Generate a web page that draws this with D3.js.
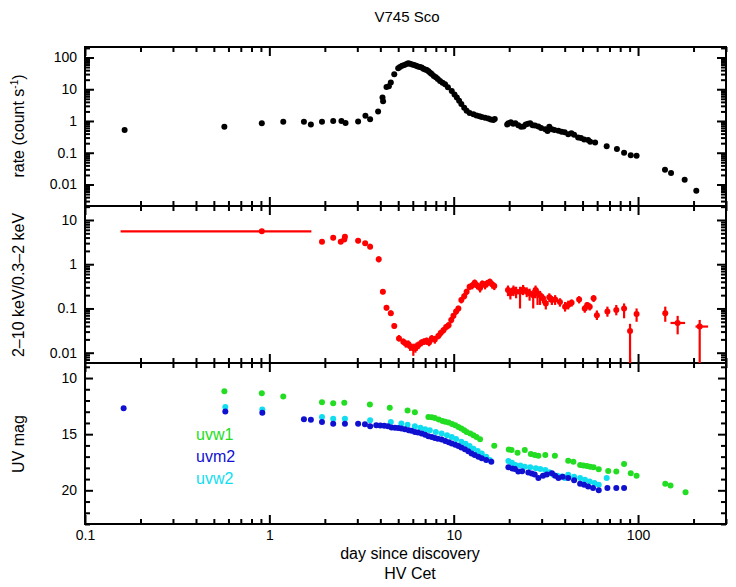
<!DOCTYPE html>
<html><head><meta charset="utf-8">
<script src="https://cdn.jsdelivr.net/npm/d3@7"></script>
<style>
body{margin:0;background:#fff;}
text{font-family:"Liberation Sans",Arial,Helvetica,sans-serif;}
</style></head>
<body><svg id="c" width="736" height="587"></svg>
<script>
// ---------- DATA ----------
const title = "V745 Sco";
const xTickLabels = ["0.1","1","10","100"];
const xMajor = [0.1,1,10,100];

// top panel: count rate
const rateDay = [0.164,0.57,0.91,1.19,1.54,1.68,1.93,2.22,2.46,2.59,3.03,3.32,3.52,3.89,4.11,4.14,4.32,4.45,4.56,4.76,5.0,5.11,5.25,5.4,5.55,5.67,5.8,5.95,6.1,6.25,6.4,6.55,6.7,6.85,7.0,7.15,7.3,7.45,7.6,7.8,8.0,8.2,8.43,8.7,8.98,9.3,9.76,10.1,10.4,10.7,11.0,11.4,11.75,12.2,12.8,13.3,13.8,14.2,14.8,15.4,15.9,16.4,16.7,19.5,19.8,20.4,21.0,21.6,22.4,23.2,23.9,24.6,25.3,26.0,26.8,27.6,28.8,29.8,31.4,32.3,33.0,34.1,35.2,37.0,38.5,40.0,41.8,43.5,45.0,47.3,49.0,51.0,53.6,55.0,58.5,67.6,76.8,84,91.3,98.2,140,151,179,207];
const rateVal = [0.52,0.66,0.85,0.94,0.94,0.77,0.94,1.0,1.0,0.86,0.97,1.45,1.13,1.98,5.5,4.2,11.8,12.5,16.3,29.8,46,50,55,58,62,66,64,60,58,55,52,50,48,44,42,40,37,33,30,26,24,21,18.3,16,14.4,11.5,8.8,6.8,5.5,4.3,3.4,2.6,2.1,1.8,1.63,1.5,1.4,1.34,1.26,1.19,1.12,1.08,1.15,0.78,0.85,0.92,0.82,0.85,0.74,0.66,0.67,0.78,0.82,0.85,0.74,0.72,0.67,0.60,0.55,0.48,0.66,0.55,0.52,0.49,0.46,0.44,0.38,0.41,0.37,0.30,0.29,0.26,0.25,0.22,0.21,0.16,0.13,0.10,0.083,0.08,0.029,0.023,0.014,0.0063];

// middle panel: hardness ratio
const hrDay = [0.91,1.93,2.22,2.44,2.55,2.57,3.03,3.31,3.52,3.92,4.13,4.32,4.56,4.76,5.05,5.33,5.5,5.67,5.8,6.04,6.2,6.3,6.45,6.7,6.9,7.13,7.35,7.6,7.9,8.25,8.5,8.8,9.1,9.38,9.7,9.97,10.3,10.6,11.0,11.4,11.75,12.2,12.6,13.0,13.4,13.9,14.3,14.8,15.2,15.7,16.2,16.6,19.7,20.3,21.1,21.8,22.9,23.8,24.9,25.8,27.0,27.8,28.5,29.4,30.5,31.6,33.0,34.1,35.5,37.7,40.2,41.8,43.6,47.9,51.4,53.0,54.7,57.4,59.8,68.2,76.2,84,90.5,98.2,140.5,164,216];
const hrVal = [5.55,3.23,3.97,3.23,3.6,4.2,3.4,2.97,2.49,1.29,0.24,0.104,0.078,0.040,0.021,0.0177,0.016,0.0158,0.014,0.0126,0.013,0.0138,0.015,0.0169,0.018,0.0187,0.017,0.021,0.02,0.0238,0.028,0.0323,0.038,0.042,0.055,0.068,0.085,0.1,0.155,0.19,0.24,0.31,0.33,0.38,0.33,0.29,0.36,0.34,0.37,0.40,0.35,0.32,0.26,0.22,0.26,0.24,0.24,0.27,0.24,0.22,0.2,0.26,0.22,0.2,0.17,0.13,0.18,0.155,0.16,0.14,0.11,0.12,0.135,0.16,0.1,0.12,0.11,0.17,0.07,0.085,0.092,0.1,0.031,0.075,0.078,0.047,0.039];
const hrLo = [5.3,2.9,3.5,2.9,3.2,3.7,3.0,2.6,2.2,1.1,0.21,0.09,0.068,0.035,0.018,0.015,0.013,0.013,0.011,0.0085,0.010,0.011,0.012,0.014,0.015,0.015,0.014,0.017,0.016,0.020,0.023,0.027,0.032,0.035,0.046,0.058,0.072,0.085,0.13,0.16,0.2,0.26,0.27,0.31,0.27,0.23,0.29,0.27,0.3,0.33,0.28,0.26,0.19,0.16,0.19,0.17,0.10,0.2,0.18,0.15,0.1,0.17,0.12,0.12,0.13,0.095,0.14,0.12,0.12,0.11,0.085,0.095,0.11,0.13,0.08,0.1,0.09,0.14,0.055,0.065,0.07,0.06,0.001,0.05,0.05,0.026,0.001];
const hrHi = [5.8,3.6,4.5,3.6,4.0,4.7,3.8,3.3,2.9,1.5,0.27,0.12,0.09,0.046,0.025,0.021,0.019,0.019,0.017,0.016,0.016,0.017,0.018,0.02,0.021,0.022,0.02,0.025,0.024,0.028,0.033,0.038,0.044,0.049,0.064,0.079,0.098,0.115,0.18,0.22,0.28,0.36,0.39,0.45,0.39,0.35,0.43,0.41,0.44,0.47,0.42,0.38,0.33,0.28,0.33,0.31,0.31,0.34,0.3,0.28,0.26,0.33,0.28,0.25,0.21,0.16,0.22,0.19,0.2,0.17,0.14,0.15,0.16,0.19,0.12,0.14,0.13,0.2,0.09,0.11,0.12,0.13,0.045,0.1,0.11,0.068,0.055];
const hrXerr = [{i:0,lo:0.156,hi:1.69},{i:85,lo:150,hi:180},{i:86,lo:205,hi:240}];

// bottom panel: UVOT magnitudes
const uvw1Day = [0.57,0.91,1.19,1.93,2.22,2.55,3.51,4.5,5.62,6.16,7.29,7.6,7.9,8.3,8.7,9.0,9.38,9.8,10.2,10.6,11.0,11.4,11.75,12.3,12.8,13.3,13.9,16.6,19.9,20.6,22.2,24.3,26.2,27.5,28.8,31.4,35.4,41.8,44.6,48.5,50.5,52.8,55,57.4,61.2,68.9,76.2,84,91.3,98.2,140.5,150,181];
const uvw1Mag = [11.18,11.36,11.65,12.15,12.24,12.21,12.36,12.65,12.89,13.04,13.48,13.5,13.56,13.7,13.83,13.9,13.97,14.1,14.21,14.35,14.5,14.65,14.8,14.95,15.09,15.25,15.45,16.04,16.36,16.4,16.65,16.42,16.77,16.85,16.92,16.86,16.92,17.36,17.45,17.74,17.78,17.83,17.9,17.94,18.12,18.27,18.33,17.65,18.47,18.71,19.42,19.57,20.18];
const uvm2Day = [0.162,0.577,0.916,1.54,1.68,1.93,2.22,2.57,3.03,3.3,3.52,3.8,4.0,4.2,4.4,4.6,4.8,5.0,5.2,5.43,5.7,5.9,6.16,6.4,6.7,7.0,7.29,7.6,7.9,8.2,8.6,9.0,9.4,9.76,10.2,10.6,11.0,11.5,12.0,12.5,13.0,13.6,14.2,15.0,16.0,19.8,20.8,21.5,22.4,23.5,25.4,26.5,27.5,28.8,30.5,32.0,34.1,35.5,37.0,39.0,41.8,45,48.5,51,53.6,57,61.2,68.2,76.2,84];
const uvm2Mag = [12.68,12.97,13.09,13.68,13.71,13.92,14.06,14.06,14.06,14.12,14.3,14.2,14.22,14.25,14.3,14.4,14.42,14.45,14.5,14.56,14.65,14.7,14.8,14.85,14.95,15.05,15.18,15.25,15.33,15.4,15.47,15.6,15.72,15.83,15.95,16.05,16.18,16.35,16.52,16.71,16.85,17.0,17.15,17.3,17.45,17.94,18.05,18.1,18.33,18.3,18.42,18.5,18.6,18.91,18.7,18.6,18.47,18.7,18.91,18.8,18.91,19.1,19.42,19.5,19.66,19.8,20.0,19.8,19.8,19.8];
const uvw2Day = [0.577,0.916,1.93,2.22,2.57,3.52,4.56,5.2,5.62,6.16,6.6,7.0,7.42,8.0,8.6,9.2,9.76,10.3,11.0,11.6,12.2,12.8,13.5,14.2,15.0,15.7,19.8,20.7,21.6,23.0,24.3,26.0,27.9,29.5,31.4,33.0,34.7,36.5,38.6,40.0,41.8,45,48.5,51.5,54.7,58,61.2,67.6];
const uvw2Mag = [12.59,12.8,13.48,13.62,13.62,13.77,13.92,14.05,14.15,14.3,14.42,14.55,14.65,14.8,14.95,15.1,15.24,15.42,15.68,15.85,16.06,16.3,16.5,16.71,17.0,17.3,17.39,17.55,17.74,17.8,17.89,17.95,18.03,18.1,18.18,18.4,18.62,18.7,18.77,18.9,18.62,18.8,18.91,19.05,19.21,19.35,19.5,18.91];
const legendNames = ["uvw1","uvm2","uvw2"];
const colors = {uvw1:"#22dd22", uvm2:"#1010d0", uvw2:"#10ddf0", x:"#ff0000", rate:"#000000"};

// ---------- DRAW ----------
const svg = d3.select("#c");
const L=85, R=726;
const panels = [{t:47,b:206},{t:206,b:363},{t:363,b:524}];
const x = d3.scaleLog().domain([0.1,300]).range([L,R]);
const yTop = d3.scaleLog().domain([0.0021,214]).range([panels[0].b,panels[0].t]);
const yMid = d3.scaleLog().domain([0.00585,20.7]).range([panels[1].b,panels[1].t]);
const yBot = d3.scaleLinear().domain([23,8.66]).range([panels[2].b,panels[2].t]);

const xMinor=[];
[0.1,1,10,100].forEach(d=>{for(let k=2;k<=9;k++){const v=d*k; if(v<=300) xMinor.push(v);}});
function logMinor(sc){const [a,b]=sc.domain();const out=[];for(let e=Math.floor(Math.log10(a));e<=Math.ceil(Math.log10(b));e++){for(let k=2;k<=9;k++){const v=k*Math.pow(10,e);if(v>=a&&v<=b)out.push(v);}}return out;}

function styleAxis(g){g.select(".domain").remove();g.selectAll("line").attr("stroke","#000").attr("stroke-width",2);g.selectAll("text").attr("font-size",14).attr("fill","#000");}

panels.forEach((p,i)=>{
  svg.append("g").attr("transform",`translate(0,${p.b})`).call(d3.axisBottom(x).tickValues(xMajor).tickSize(-9).tickFormat(i===2?((d,j)=>xTickLabels[j]):"").tickPadding(6)).call(styleAxis);
  svg.append("g").attr("transform",`translate(0,${p.b})`).call(d3.axisBottom(x).tickValues(xMinor).tickSize(-5).tickFormat("")).call(styleAxis);
  svg.append("g").attr("transform",`translate(0,${p.t})`).call(d3.axisTop(x).tickValues(xMajor).tickSize(-9).tickFormat("")).call(styleAxis);
  svg.append("g").attr("transform",`translate(0,${p.t})`).call(d3.axisTop(x).tickValues(xMinor).tickSize(-5).tickFormat("")).call(styleAxis);
});

function yAxes(sc, major, minor, labels, majLen, minLen){
  svg.append("g").attr("transform",`translate(${L},0)`).call(d3.axisLeft(sc).tickValues(major).tickSize(-majLen).tickPadding(8).tickFormat((d,j)=>labels[j])).call(styleAxis);
  svg.append("g").attr("transform",`translate(${L},0)`).call(d3.axisLeft(sc).tickValues(minor).tickSize(-minLen).tickFormat("")).call(styleAxis);
  svg.append("g").attr("transform",`translate(${R},0)`).call(d3.axisRight(sc).tickValues(major).tickSize(-majLen).tickFormat("")).call(styleAxis);
  svg.append("g").attr("transform",`translate(${R},0)`).call(d3.axisRight(sc).tickValues(minor).tickSize(-minLen).tickFormat("")).call(styleAxis);
}
yAxes(yTop,[0.01,0.1,1,10,100],logMinor(yTop),["0.01","0.1","1","10","100"],9,5);
yAxes(yMid,[0.01,0.1,1,10],logMinor(yMid),["0.01","0.1","1","10"],9,5);
yAxes(yBot,[10,15,20],d3.range(9,24).filter(v=>v%5!==0),["10","15","20"],8,5);

// frames
panels.forEach(p=>svg.append("rect").attr("x",L).attr("y",p.t).attr("width",R-L).attr("height",p.b-p.t).attr("fill","none").attr("stroke","#000").attr("stroke-width",2));

// top data
svg.append("g").selectAll("circle").data(rateDay.map((d,i)=>[d,rateVal[i]])).join("circle")
  .attr("cx",d=>x(d[0])).attr("cy",d=>yTop(d[1])).attr("r",3).attr("fill",colors.rate);

// middle data
const hr = hrDay.map((d,i)=>({d, v:hrVal[i], lo:hrLo[i], hi:hrHi[i]}));
const gm = svg.append("g");
gm.selectAll("line.ey").data(hr).join("line").attr("x1",d=>x(d.d)).attr("x2",d=>x(d.d))
  .attr("y1",d=>Math.min(yMid(d.lo),panels[1].b)).attr("y2",d=>yMid(d.hi)).attr("stroke",colors.x).attr("stroke-width",2.2);
gm.selectAll("line.ex").data(hrXerr).join("line").attr("x1",e=>x(e.lo)).attr("x2",e=>x(e.hi))
  .attr("y1",e=>yMid(hrVal[e.i])).attr("y2",e=>yMid(hrVal[e.i])).attr("stroke",colors.x).attr("stroke-width",2.2);
gm.selectAll("circle").data(hr).join("circle").attr("cx",d=>x(d.d)).attr("cy",d=>yMid(d.v)).attr("r",3).attr("fill",colors.x);

// bottom data
function uv(days,mags,col){svg.append("g").selectAll("circle").data(days.map((d,i)=>[d,mags[i]])).join("circle")
  .attr("cx",d=>x(d[0])).attr("cy",d=>yBot(d[1])).attr("r",3).attr("fill",col);}
uv(uvw1Day,uvw1Mag,colors.uvw1);
uv(uvw2Day,uvw2Mag,colors.uvw2);
uv(uvm2Day,uvm2Mag,colors.uvm2);

// legend
legendNames.forEach((n,i)=>svg.append("text").attr("x",196).attr("y",440+i*22).attr("font-size",16).attr("fill",colors[n]).text(n));

// titles
svg.append("text").attr("x",407).attr("y",22).attr("text-anchor","middle").attr("font-size",15).text(title);
svg.append("text").attr("x",410).attr("y",559).attr("text-anchor","middle").attr("font-size",16).text("day since discovery");
svg.append("text").attr("x",410).attr("y",579).attr("text-anchor","middle").attr("font-size",16).text("HV Cet");
const t1 = svg.append("text").attr("transform","translate(24,126) rotate(-90)").attr("text-anchor","middle").attr("font-size",16);
t1.append("tspan").text("rate (count s");
t1.append("tspan").attr("dy",-6).attr("font-size",10).text("-1");
t1.append("tspan").attr("dy",6).text(")");
svg.append("text").attr("transform","translate(24,285) rotate(-90)").attr("text-anchor","middle").attr("font-size",16).text("2–10 keV/0.3–2 keV");
svg.append("text").attr("transform","translate(24,444) rotate(-90)").attr("text-anchor","middle").attr("font-size",16).text("UV mag");
</script></body></html>
